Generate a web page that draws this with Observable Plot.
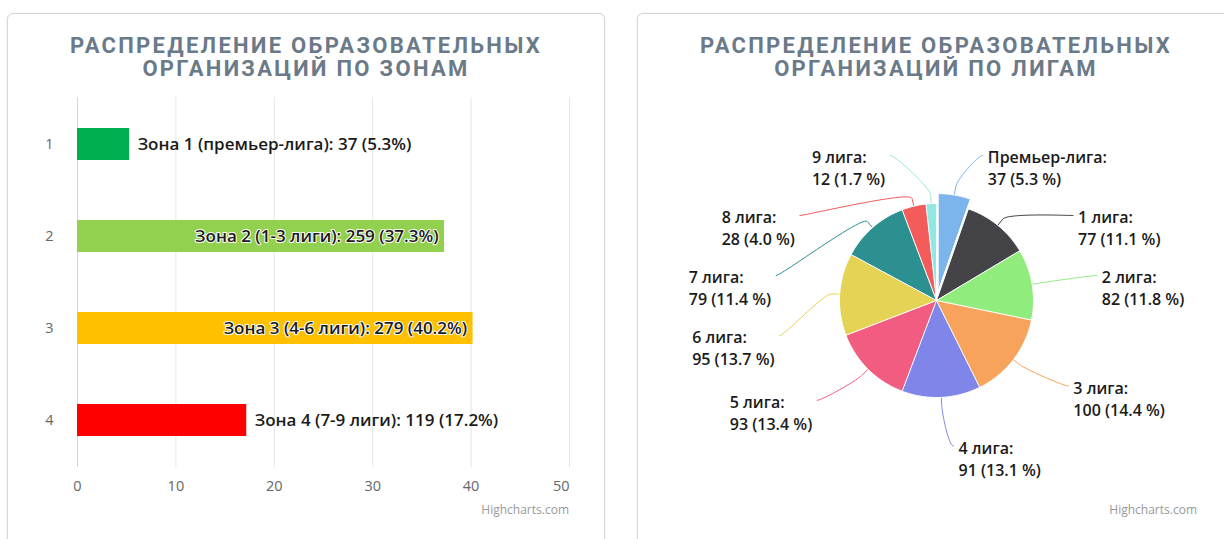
<!DOCTYPE html>
<html>
<head>
<meta charset="utf-8">
<script src="https://cdn.jsdelivr.net/npm/d3@7"></script>
<script src="https://cdn.jsdelivr.net/npm/@observablehq/plot@0.6"></script>
<style>
html, body { margin: 0; padding: 0; background: #fff; }
#page { position: relative; width: 1224px; height: 539px; overflow: hidden; font-family: "Open Sans", sans-serif; }
.card { position: absolute; top: 13px; width: 596px; height: 620px; border: 1px solid #d6d6d6; border-radius: 6px; box-shadow: 0 0 3px rgba(0,0,0,0.08); background: #fff; }
.title { position: absolute; top: 34px; width: 598px; text-align: center; font-family: Roboto, sans-serif; font-weight: 700; font-size: 22px; line-height: 23px; letter-spacing: 2.3px; color: #6b7a88; }
.chart { position: absolute; top: 90px; }
.credit { position: absolute; top: 502px; font-size: 12px; line-height: 16px; color: #999; font-family: "Open Sans", sans-serif; text-align: right; width: 120px; }
</style>
</head>
<body>
<div id="page">
  <div class="card" style="left:7px"></div>
  <div class="card" style="left:637px"></div>
  <div class="title" style="left:7px">РАСПРЕДЕЛЕНИЕ ОБРАЗОВАТЕЛЬНЫХ<br>ОРГАНИЗАЦИЙ ПО ЗОНАМ</div>
  <div class="title" style="left:637px">РАСПРЕДЕЛЕНИЕ ОБРАЗОВАТЕЛЬНЫХ<br>ОРГАНИЗАЦИЙ ПО ЛИГАМ</div>
  <div id="bars" class="chart" style="left:0px"></div>
  <div id="pie" class="chart" style="left:637px"></div>
  <div class="credit" style="left:449px">Highcharts.com</div>
  <div class="credit" style="left:1077px">Highcharts.com</div>
</div>
<script>
// ---------- data ----------
const zoneIds = ["1", "2", "3", "4"];
const zoneNames = ["Зона 1 (премьер-лига)", "Зона 2 (1-3 лиги)", "Зона 3 (4-6 лиги)", "Зона 4 (7-9 лиги)"];
const zoneCounts = [37, 259, 279, 119];
const zonePercents = [5.3, 37.3, 40.2, 17.2];
const zoneColors = ["#00b050", "#92d050", "#ffc000", "#ff0000"];
const xTicks = [0, 10, 20, 30, 40, 50];

const leagueNames = ["Премьер-лига", "1 лига", "2 лига", "3 лига", "4 лига", "5 лига", "6 лига", "7 лига", "8 лига", "9 лига"];
const leagueCounts = [37, 77, 82, 100, 91, 93, 95, 79, 28, 12];
const leaguePercents = [5.3, 11.1, 11.8, 14.4, 13.1, 13.4, 13.7, 11.4, 4.0, 1.7];
const leagueColors = ["#7cb5ec", "#434348", "#90ed7d", "#f7a35c", "#8085e9", "#f15c80", "#e4d354", "#2b908f", "#f45b5b", "#91e8e1"];
const slicedLeague = "Премьер-лига";

// ---------- helpers ----------
const ctx = document.createElement("canvas").getContext("2d");
function textWidth(s, font) { ctx.font = font; return ctx.measureText(s).width; }
const FONT = '"Open Sans", sans-serif';

// ---------- bar chart ----------
{
  const W = 606, H = 440, ML = 77, MR = 37, MT = 7, MB = 63;
  const labelSize = 17;
  const labelFont = `600 ${labelSize}px ${FONT}`;
  const xMax = xTicks[xTicks.length - 1];
  const px = v => ML + v / xMax * (W - ML - MR);
  const zones = zoneIds.map((id, i) => {
    const label = `${zoneNames[i]}: ${zoneCounts[i]} (${zonePercents[i]}%)`;
    const inside = px(zonePercents[i]) + 8 + textWidth(label, labelFont) > W - MR;
    return {id, pct: zonePercents[i], color: zoneColors[i], label, inside};
  });
  const lastTick = xTicks[xTicks.length - 1];
  const chart = Plot.plot({
    width: W, height: H, marginLeft: ML, marginRight: MR, marginTop: MT, marginBottom: MB,
    style: {fontFamily: FONT, fontSize: "14.5px", color: "#666", background: "transparent", overflow: "visible"},
    x: {domain: [0, xMax], axis: null},
    y: {domain: zoneIds, padding: 0, tickSize: 0, tickPadding: 24, label: null},
    color: {type: "identity"},
    marks: [
      Plot.ruleX(xTicks.slice(1), {stroke: "#e6e6e6", strokeWidth: 1}),
      Plot.ruleX([0], {stroke: "#ccd6eb", strokeWidth: 1}),
      Plot.text(xTicks.filter(t => t !== lastTick), {x: d => d, frameAnchor: "bottom", dy: 23, text: d => String(d), fill: "#666"}),
      Plot.text([lastTick], {x: d => d, frameAnchor: "bottom", dy: 23, textAnchor: "end", text: d => String(d), fill: "#666"}),
      Plot.barX(zones, {x: "pct", y: "id", fill: d => d.color, insetTop: 30, insetBottom: 30}),
      Plot.text(zones.filter(d => !d.inside), {x: "pct", y: "id", text: "label", textAnchor: "start", dx: 8, fill: "#1a1a1a", fontWeight: 600, fontSize: labelSize}),
      Plot.text(zones.filter(d => d.inside), {x: "pct", y: "id", text: "label", textAnchor: "end", dx: -6, fill: "#1a1a1a", stroke: "#fff", strokeWidth: 2, paintOrder: "stroke", fontWeight: 600, fontSize: labelSize})
    ]
  });
  document.getElementById("bars").appendChild(chart);
}

// ---------- pie chart ----------
{
  const W = 587, H = 449, CX = 299, CY = 210;
  const R = 97, OFFSET = 10, LABEL_R = 145, GAP = 60, TOP = -(R + 45);
  const CONNECT_PAD = 17, TEXT_PAD = 5, BREAK = 8;
  const fontSize = 16, lineH = 22;
  const labelFont = `600 ${fontSize}px ${FONT}`;

  const leagues = leagueNames.map((name, i) => ({name, count: leagueCounts[i], pct: leaguePercents[i], color: leagueColors[i]}));
  const arcs = d3.pie().sort(null).value(d => d.count)(leagues);

  const slicePts = [];
  const labels = [];
  arcs.forEach((a, i) => {
    const d = leagues[i];
    const mid = (a.startAngle + a.endAngle) / 2;
    const off = d.name === slicedLeague ? OFFSET : 0;
    const ox = off * Math.sin(mid), oy = -off * Math.cos(mid);
    slicePts.push({name: d.name, color: d.color, x: ox, y: oy});
    const n = Math.max(2, Math.ceil((a.endAngle - a.startAngle) / (Math.PI / 180)));
    for (let k = 0; k <= n; k++) {
      const t = a.startAngle + (a.endAngle - a.startAngle) * k / n;
      slicePts.push({name: d.name, color: d.color, x: ox + R * Math.sin(t), y: oy - R * Math.cos(t)});
    }
    const line1 = `${d.name}:`, line2 = `${d.count} (${d.pct.toFixed(1)} %)`;
    labels.push({...d, mid, ox, oy, right: mid < Math.PI, natY: -LABEL_R * Math.cos(mid),
      text: line1 + "\n" + line2,
      w: Math.max(textWidth(line1, labelFont), textWidth(line2, labelFont))});
  });

  for (const side of [true, false]) {
    const group = labels.filter(l => l.right === side).sort((a, b) => a.natY - b.natY);
    let prev = -Infinity;
    for (const l of group) { l.y = Math.max(l.natY, prev + GAP, TOP); prev = l.y; }
  }

  const connPts = [];
  for (const l of labels) {
    const dx = Math.sqrt(Math.max(0, LABEL_R * LABEL_R - l.y * l.y));
    const s = l.right ? 1 : -1;
    l.anchorX = s * (dx + CONNECT_PAD);
    l.textX = l.right ? l.anchorX + TEXT_PAD : l.anchorX - TEXT_PAD - l.w;
    const sx = Math.sin(l.mid), sy = -Math.cos(l.mid);
    const touch = [l.ox + R * sx, l.oy + R * sy];
    const brk = [l.ox + (R + BREAK) * sx, l.oy + (R + BREAK) * sy];
    const p0 = [l.anchorX, l.y - 3];
    const p1 = [l.anchorX - s * 5, l.y - 3];
    const p2 = [2 * brk[0] - touch[0], 2 * brk[1] - touch[1]];
    const p3 = brk;
    for (let k = 0; k <= 24; k++) {
      const t = k / 24, u = 1 - t;
      connPts.push({name: l.name, color: l.color,
        x: u*u*u*p0[0] + 3*u*u*t*p1[0] + 3*u*t*t*p2[0] + t*t*t*p3[0],
        y: u*u*u*p0[1] + 3*u*u*t*p1[1] + 3*u*t*t*p2[1] + t*t*t*p3[1]});
    }
    connPts.push({name: l.name, color: l.color, x: touch[0], y: touch[1]});
  }

  const chart = Plot.plot({
    width: W, height: H, margin: 0,
    style: {fontFamily: FONT, fontSize: "16px", color: "#222", background: "transparent", overflow: "visible"},
    x: {domain: [-CX, W - CX], range: [0, W], axis: null},
    y: {domain: [-CY, H - CY], range: [0, H], axis: null},
    color: {type: "identity"},
    marks: [
      Plot.line(connPts, {x: "x", y: "y", z: "name", stroke: d => d.color, strokeWidth: 1, fill: "none"}),
      Plot.line(slicePts, {x: "x", y: "y", z: "name", fill: d => d.color, stroke: "#fff", strokeWidth: 1, strokeLinejoin: "round", curve: "linear-closed"}),
      Plot.text(labels, {x: "textX", y: "y", text: "text", textAnchor: "start", lineAnchor: "top", lineHeight: lineH / fontSize, dy: -11, fill: "#1a1a1a", fontSize, fontWeight: 600})
    ]
  });
  document.getElementById("pie").appendChild(chart);
}
</script>
</body>
</html>
